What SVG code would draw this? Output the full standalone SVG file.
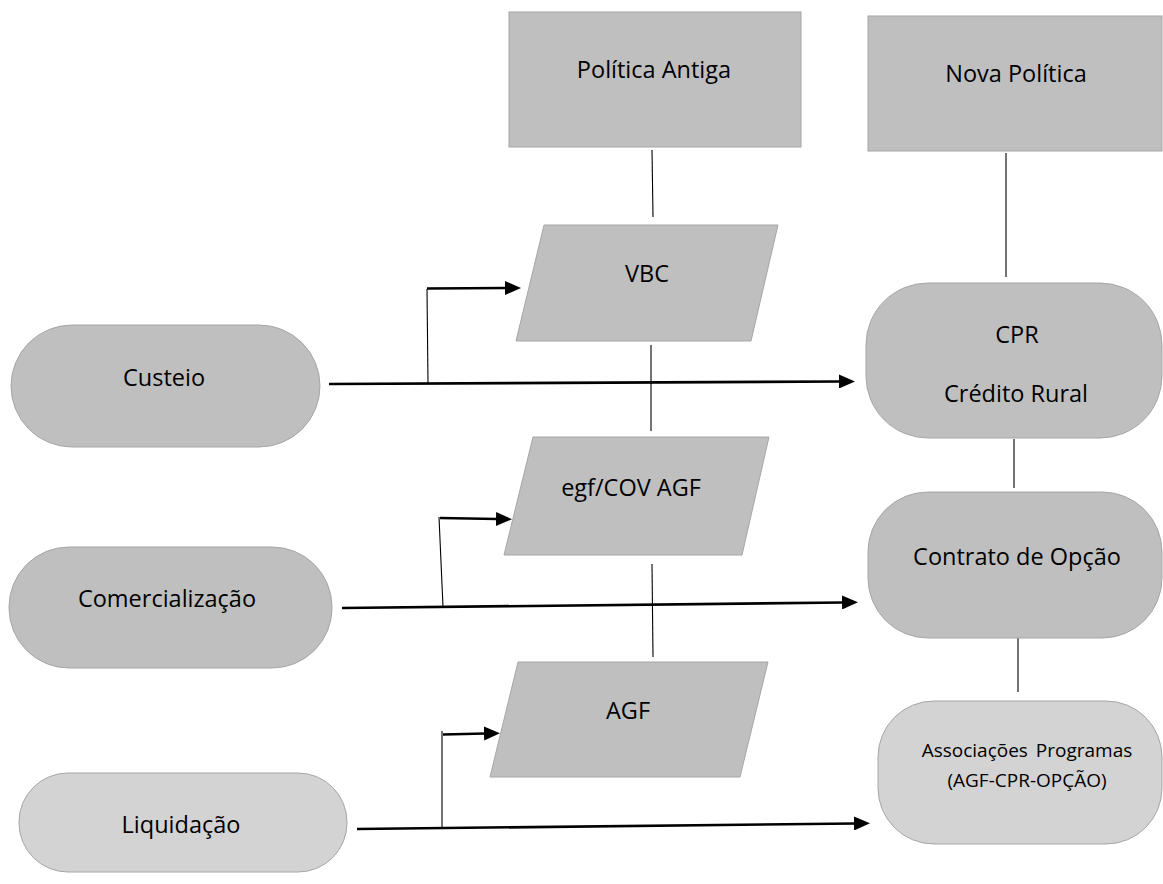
<svg xmlns="http://www.w3.org/2000/svg" width="1163" height="884" viewBox="0 0 1163 884">
  <defs>
    <marker id="arrow" markerUnits="userSpaceOnUse" markerWidth="16" markerHeight="14" refX="1" refY="7" orient="auto">
      <path d="M0,0 L16,7 L0,14 z" fill="#000"/>
    </marker>
    <style>
      .dark { fill: #bfbfbf; stroke: #a6a6a6; stroke-width: 1; }
      .light { fill: #d3d3d3; stroke: #a6a6a6; stroke-width: 1; }
      .lbl { font-family: "Open Sans", "Liberation Sans", sans-serif; font-size: 23.5px; fill: #000; text-anchor: middle; }
      .small { font-size: 19px; word-spacing: 3px; }
      .thin { stroke: #000; stroke-width: 1.1; fill: none; }
      .flow { stroke: #000; stroke-width: 2.6; fill: none; marker-end: url(#arrow); }
    </style>
  </defs>
  <rect width="1163" height="884" fill="#fff"/>

  <!-- connectors -->
  <g id="connectors">
    <!-- policy spines -->
    <line class="thin" x1="652" y1="150" x2="653" y2="217"/>
    <line class="thin" x1="651" y1="345" x2="651" y2="431"/>
    <line class="thin" x1="652" y1="564" x2="653" y2="657"/>
    <line class="thin" x1="1006" y1="153" x2="1006" y2="277"/>
    <line class="thin" x1="1014" y1="439" x2="1014" y2="488"/>
    <line class="thin" x1="1018" y1="638" x2="1018" y2="692"/>
    <!-- branch risers -->
    <line class="thin" x1="428" y1="383" x2="427" y2="289"/>
    <line class="thin" x1="443" y1="607" x2="439" y2="517"/>
    <line class="thin" x1="442" y1="828" x2="442" y2="731"/>
    <!-- arrows -->
    <line class="flow" x1="329" y1="384" x2="840" y2="381.5"/>
    <line class="flow" x1="427" y1="288.5" x2="506" y2="288"/>
    <line class="flow" x1="342" y1="608" x2="843" y2="602.5"/>
    <line class="flow" x1="440" y1="518" x2="497" y2="519"/>
    <line class="flow" x1="357" y1="829" x2="855" y2="823.5"/>
    <line class="flow" x1="443" y1="734.5" x2="485" y2="733.5"/>
  </g>

  <g id="politica-antiga">
    <rect class="dark" x="509" y="12" width="292" height="135"/>
    <text class="lbl" x="654" y="78">Política Antiga</text>
  </g>
  <g id="nova-politica">
    <rect class="dark" x="868" y="16" width="294" height="135"/>
    <text class="lbl" x="1016" y="82">Nova Política</text>
  </g>

  <g id="vbc">
    <polygon class="dark" points="544,225 778,225 751,341 516,341"/>
    <text class="lbl" x="647" y="282">VBC</text>
  </g>
  <g id="egf-cov-agf">
    <polygon class="dark" points="533,437 769,437 742,555 504,555"/>
    <text class="lbl" x="631" y="496">egf/COV AGF</text>
  </g>
  <g id="agf">
    <polygon class="dark" points="518,662 768,662 740,777 490,777"/>
    <text class="lbl" x="628" y="719">AGF</text>
  </g>

  <g id="custeio">
    <rect class="dark" x="11" y="325" width="309" height="122" rx="61" ry="61"/>
    <text class="lbl" x="164" y="386">Custeio</text>
  </g>
  <g id="comercializacao">
    <rect class="dark" x="9" y="547" width="323" height="121" rx="60" ry="60"/>
    <text class="lbl" x="167" y="607">Comercialização</text>
  </g>
  <g id="liquidacao">
    <rect class="light" x="19" y="773" width="328" height="99" rx="49" ry="49"/>
    <text class="lbl" x="181" y="833">Liquidação</text>
  </g>

  <g id="cpr">
    <rect class="dark" x="866" y="283" width="296" height="155" rx="62" ry="62"/>
    <text class="lbl" x="1017" y="343">CPR</text>
    <text class="lbl" x="1016" y="402">Crédito Rural</text>
  </g>
  <g id="contrato-opcao">
    <rect class="dark" x="868" y="492" width="294" height="146" rx="60" ry="60"/>
    <text class="lbl" x="1017" y="565">Contrato de Opção</text>
  </g>
  <g id="associacoes">
    <rect class="light" x="878" y="701" width="284" height="143" rx="56" ry="56"/>
    <text class="lbl small" x="1027" y="757">Associações Programas</text>
    <text class="lbl small" x="1027" y="787">(AGF-CPR-OPÇÃO)</text>
  </g>
</svg>
